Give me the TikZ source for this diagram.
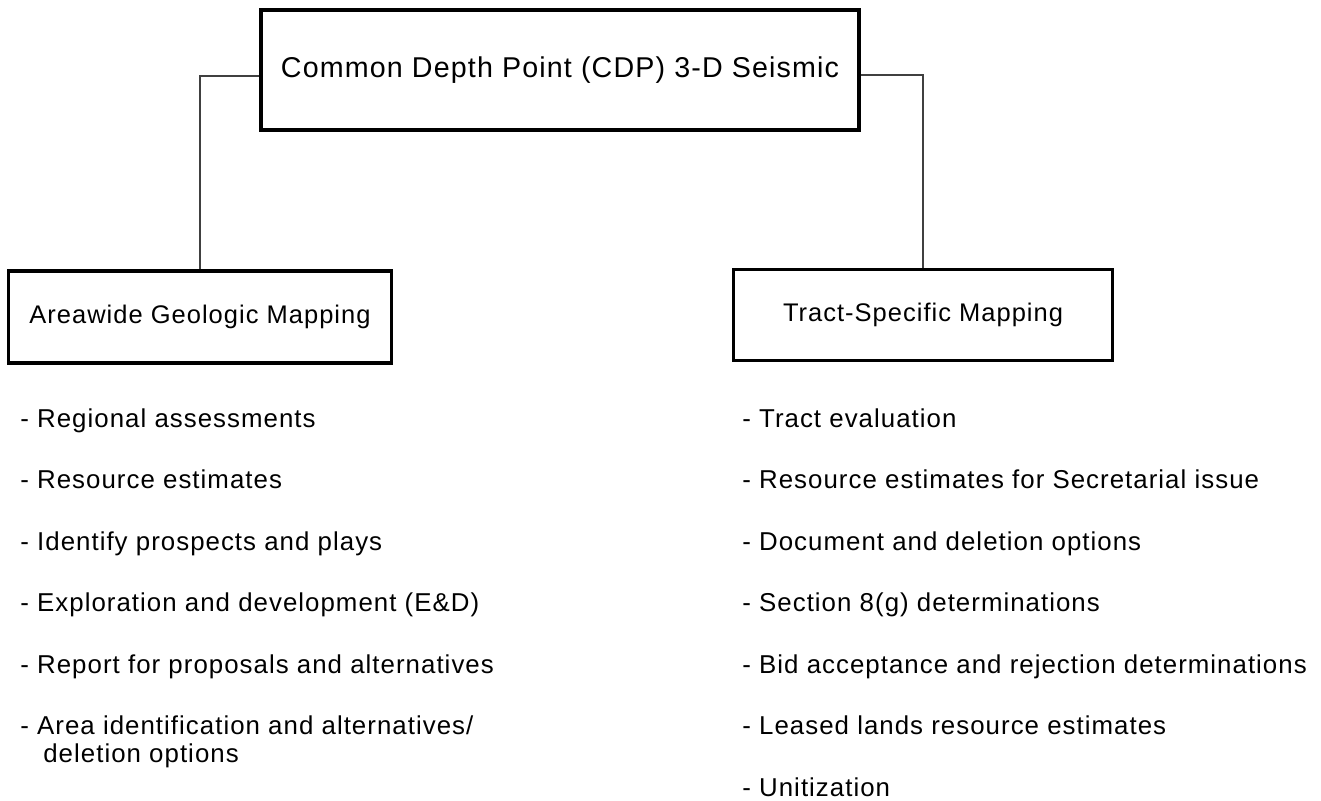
\documentclass[tikz,border=0pt]{standalone}
\usepackage{fontspec}
\setmainfont{Liberation Sans}
\newfontfamily\diagfont[LetterSpace=4]{Liberation Sans}
\usetikzlibrary{positioning}
\begin{document}
\begin{tikzpicture}
        [x=0.2mm, y=-0.2mm,
         box/.style={draw=black, line width=2pt, inner sep=0pt, font=\diagfont\fontsize{14.5}{17}\selectfont},
         link/.style={draw=black!75, line width=0.6pt},
         item/.style={anchor=base west, inner sep=0pt, font=\diagfont\fontsize{14.7}{16}\selectfont}]

        \useasboundingbox (0,0) rectangle (1321,801);

        \node[box, minimum width=119.6mm, minimum height=24mm, font=\diagfont\fontsize{16.3}{19}\selectfont] (cdp) at (560, 70) {Common Depth Point (CDP) 3-D Seismic};
        \node[box, minimum width=76.6mm, minimum height=18.4mm] (areawide) at (200, 317) {Areawide Geologic Mapping};
        \node[box, minimum width=75.8mm, minimum height=18.2mm] (tract) at (923, 315) {Tract-Specific Mapping};

        \draw[link] ([yshift=-1.2mm]cdp.west) -| (areawide.north);
        \draw[link] ([yshift=-1mm]cdp.east) -| (tract.north);

        \foreach \t[count=\i] in {Regional assessments, Resource estimates, Identify prospects and plays,
                                   Exploration and development (E\&D), Report for proposals and alternatives}
        \node[item] (areawide-\i) at (20, {427+61.5*(\i-1)}) {- \t};

        \node[item] (areawide-6) at (20, 734.5) {\begin{tabular}[t]{@{}l@{}}- Area identification and alternatives/\\\hspace*{4.6mm}deletion options\end{tabular}};

        \foreach \t[count=\i] in {Tract evaluation, Resource estimates for Secretarial issue, Document and deletion options,
                                   Section 8(g) determinations, Bid acceptance and rejection determinations,
                                   Leased lands resource estimates, Unitization}
        \node[item] (tract-\i) at (742, {427+61.5*(\i-1)}) {- \t};
\end{tikzpicture}
\end{document}
